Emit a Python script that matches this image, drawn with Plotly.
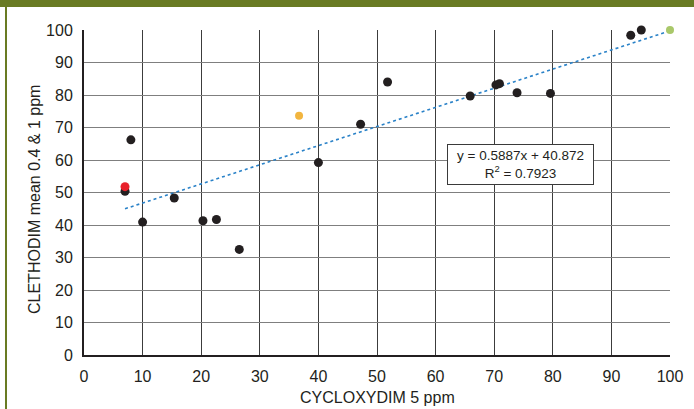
import plotly.graph_objects as go

# ---- data ----
black_x = [7.0, 8.0, 10.0, 15.4, 20.3, 22.6, 26.5, 40.0, 47.2, 51.8, 65.9, 70.3, 70.9, 73.9, 79.6, 93.3, 95.1]
black_y = [50.4, 66.2, 40.9, 48.3, 41.3, 41.7, 32.5, 59.2, 71.0, 84.0, 79.7, 83.1, 83.5, 80.7, 80.5, 98.4, 100.0]
red_x = [7.0]
red_y = [51.8]
yellow_x = [36.7]
yellow_y = [73.6]
green_x = [100.0]
green_y = [100.0]

slope = 0.5887
intercept = 40.872
r_squared = 0.7923

x_ticks = list(range(0, 101, 10))
y_ticks = list(range(0, 101, 10))

all_x = black_x + red_x + yellow_x + green_x
trend_x = [min(all_x), max(all_x)]
trend_y = [slope * v + intercept for v in trend_x]

FONT = "Liberation Sans, Arial, sans-serif"
TXT = "#231f20"
GREEN = "#697b23"

fig = go.Figure()
fig.add_trace(go.Scatter(x=trend_x, y=trend_y, mode="lines",
                         line=dict(color="#2a82c8", width=1.6, dash="dot"),
                         hoverinfo="skip", cliponaxis=False))
fig.add_trace(go.Scatter(x=black_x, y=black_y, mode="markers", cliponaxis=False,
                         marker=dict(color="#231f20", size=9)))
fig.add_trace(go.Scatter(x=red_x, y=red_y, mode="markers", cliponaxis=False,
                         marker=dict(color="#e8212b", size=9)))
fig.add_trace(go.Scatter(x=yellow_x, y=yellow_y, mode="markers", cliponaxis=False,
                         marker=dict(color="#f2b53f", size=8)))
fig.add_trace(go.Scatter(x=green_x, y=green_y, mode="markers", cliponaxis=False,
                         marker=dict(color="#a9c86a", size=8)))

W, H = 694, 409
L, R, T, B = 84, 24, 30, 54
pw, ph = W - L - R, H - T - B

def px_x(p):
    return (p - L) / pw

def px_y(p):
    return (H - B - p) / ph

fig.update_layout(
    width=W, height=H,
    margin=dict(l=L, r=R, t=T, b=B),
    paper_bgcolor="white", plot_bgcolor="white",
    showlegend=False,
    font=dict(family=FONT, size=16, color=TXT),
    xaxis=dict(range=[0, 100], tickvals=x_ticks, showgrid=True,
               gridcolor="#3c3c3c", gridwidth=1, zeroline=False,
               showline=True, linecolor="#231f20", linewidth=1.5,
               ticks="outside", ticklen=6, tickcolor="rgba(0,0,0,0)",
               tickfont=dict(family=FONT, size=16, color=TXT)),
    yaxis=dict(range=[0, 100], tickvals=y_ticks, showgrid=True,
               gridcolor="#7f7f7f", gridwidth=1.2, zeroline=False,
               showline=True, linecolor="#231f20", linewidth=2,
               ticks="outside", ticklen=6, tickcolor="rgba(0,0,0,0)",
               tickfont=dict(family=FONT, size=16, color=TXT)),
    shapes=[
        dict(type="rect", xref="paper", yref="paper",
             x0=px_x(0), x1=px_x(W), y0=px_y(7), y1=px_y(0),
             fillcolor=GREEN, line=dict(width=0), layer="above"),
        dict(type="rect", xref="paper", yref="paper",
             x0=px_x(5), x1=px_x(7), y0=px_y(H), y1=px_y(0),
             fillcolor=GREEN, line=dict(width=0), layer="above"),
    ],
    annotations=[
        dict(x=74.5, y=58.6, xref="x", yref="y",
             text=f"y = {slope}x + {intercept}<br>R<sup>2</sup> = {r_squared}",
             showarrow=False, align="center",
             font=dict(family=FONT, size=13.5, color=TXT),
             bgcolor="white", bordercolor="#3a3a3a", borderwidth=1,
             borderpad=0, width=145, height=39),
        dict(x=px_x(35), y=px_y(200), xref="paper", yref="paper",
             text="CLETHODIM mean 0.4 &amp; 1 ppm", textangle=-90,
             showarrow=False, xanchor="center", yanchor="middle",
             font=dict(family=FONT, size=16, color=TXT)),
        dict(x=0.5, y=px_y(397), xref="paper", yref="paper",
             text="CYCLOXYDIM 5 ppm",
             showarrow=False, xanchor="center", yanchor="middle",
             font=dict(family=FONT, size=16, color=TXT)),
    ],
)

fig.write_html("out.html", config={"displayModeBar": False},
               post_script="document.body.style.margin='0';document.body.style.overflow='hidden';")
